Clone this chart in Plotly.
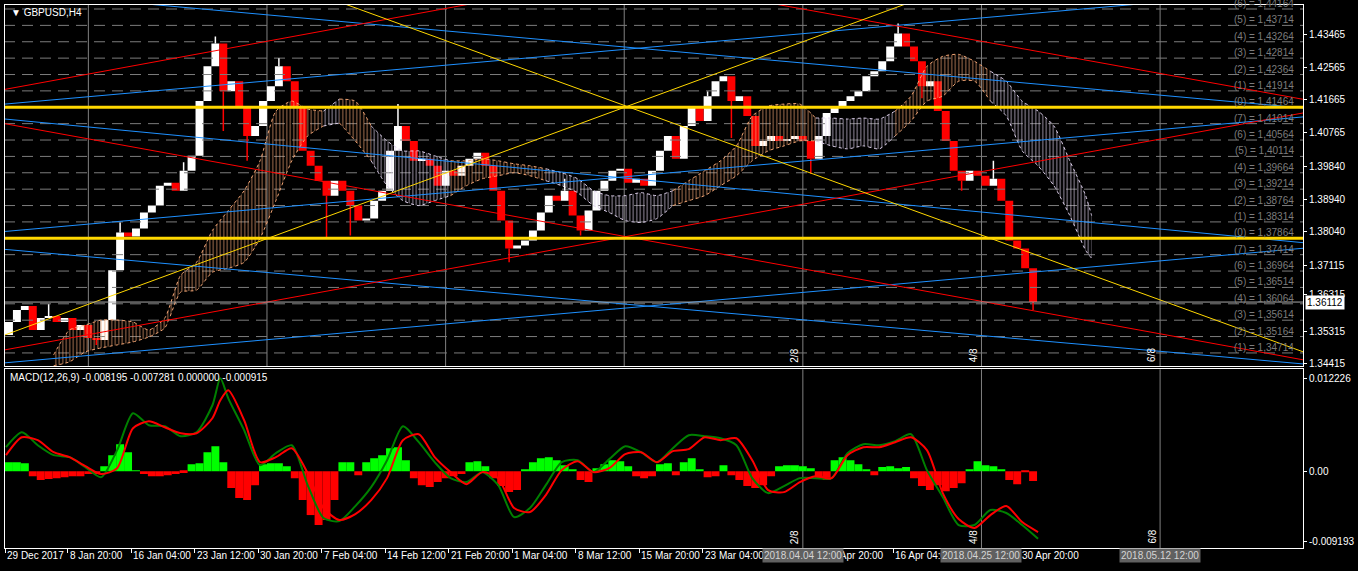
import plotly.graph_objects as go

# ---------------- DATA ----------------
first_open = 1.35208
# closes of consecutive 4-bar (H4) groups
close_px = [1.35564, 1.35892, 1.36001, 1.35345, 1.35673, 1.35728, 1.35564, 1.35673, 1.35345, 1.35482,
            1.35126, 1.35072, 1.35618, 1.36985, 1.38024, 1.37915, 1.38134, 1.38571, 1.38763, 1.39309,
            1.39391, 1.39173, 1.39719, 1.40130, 1.41633, 1.42590, 1.43219, 1.41907, 1.42180, 1.41497,
            1.40676, 1.40950, 1.41633, 1.42043, 1.42590, 1.42180, 1.41497, 1.40266, 1.39856, 1.39446,
            1.39036, 1.39446, 1.39173, 1.38763, 1.38352, 1.38407, 1.38899, 1.39173, 1.40266, 1.40950,
            1.40540, 1.39993, 1.40047, 1.39856, 1.39309, 1.39719, 1.39583, 1.39856, 1.40047, 1.40212,
            1.39856, 1.39173, 1.38352, 1.37587, 1.37669, 1.37806, 1.38079, 1.38571, 1.39036, 1.38899,
            1.39173, 1.38489, 1.38079, 1.38626, 1.39173, 1.39446, 1.39719, 1.39774, 1.39391, 1.39501,
            1.39309, 1.39719, 1.40266, 1.40676, 1.40047, 1.40950, 1.41497, 1.41086, 1.41770, 1.42180,
            1.42317, 1.41633, 1.41770, 1.41223, 1.40403, 1.40540, 1.40676, 1.40540, 1.40594, 1.40676,
            1.40540, 1.40047, 1.40676, 1.41305, 1.41497, 1.41633, 1.41770, 1.41907, 1.42317, 1.42453,
            1.42727, 1.43137, 1.43492, 1.43137, 1.42727, 1.42043, 1.42180, 1.41360, 1.40540, 1.39719,
            1.39446, 1.39719, 1.39583, 1.39309, 1.39501, 1.38899, 1.37806, 1.37587, 1.37040, 1.36112]
spike_group = [5, 11, 14, 22, 26, 27, 30, 34, 40, 43, 49, 63, 70, 72, 88, 91, 101, 112, 115, 120, 124, 129]
spike_price = [1.36050, 1.34935, 1.38300, 1.39950, 1.43410, 1.40813, 1.39993, 1.42809, 1.37860, 1.37942,
               1.41551, 1.37204, 1.39501, 1.37942, 1.41900, 1.40622, 1.39637, 1.43766, 1.41715, 1.39173,
               1.39993, 1.35892]

# Ichimoku-like cloud (bar index, top, bottom, colour kind)
cloud_idx = [24 + 8 * j for j in range(66)] + [547]
cloud_top = [1.34662, 1.35345, 1.35482, 1.35618, 1.35618, 1.35564, 1.35345, 1.35673, 1.36849, 1.37204,
             1.38079, 1.38626, 1.39173, 1.39993, 1.41360, 1.41633, 1.41414, 1.41360, 1.41688, 1.41633,
             1.40950, 1.40540, 1.40266, 1.40266, 1.40130, 1.39993, 1.39993, 1.40047, 1.39993, 1.39911,
             1.39856, 1.39774, 1.39665, 1.39501, 1.39173, 1.39036, 1.39036, 1.39118, 1.39036, 1.39173,
             1.39446, 1.39719, 1.39993, 1.40403, 1.41223, 1.41497, 1.41551, 1.41551, 1.41168, 1.41168,
             1.41141, 1.41168, 1.41141, 1.41360, 1.41770, 1.42590, 1.42864, 1.42918, 1.42727, 1.42453,
             1.42180, 1.41633, 1.41360, 1.40950, 1.39993, 1.39036, 1.38489]
cloud_bot = [1.34361, 1.34470, 1.34744, 1.34853, 1.34935, 1.35017, 1.35154, 1.35400, 1.36384, 1.36439,
             1.36931, 1.37040, 1.37204, 1.37860, 1.38899, 1.39993, 1.40676, 1.40950, 1.41032, 1.40540,
             1.39993, 1.39309, 1.38899, 1.38763, 1.38899, 1.39036, 1.39309, 1.39501, 1.39583, 1.39665,
             1.39583, 1.39446, 1.39309, 1.39118, 1.38763, 1.38571, 1.38352, 1.38298, 1.38407, 1.38763,
             1.38899, 1.39036, 1.39309, 1.39583, 1.39993, 1.40266, 1.40403, 1.40540, 1.40540, 1.40403,
             1.40321, 1.40403, 1.40321, 1.40676, 1.41086, 1.41633, 1.41770, 1.42180, 1.42180, 1.41633,
             1.41223, 1.40266, 1.39856, 1.39309, 1.38489, 1.37532, 1.37313]
cloud_kind = "PPPPPPPPPPPPPPPPP" + "L" + "PP" + "LLLLL" + "PPPPPP" + "LLLLLLLL" + "PPPPPPPPP" + "LLLLL" + "PPPPPP" + "LLLLLLLL"

# Murrey math levels
murrey_levels = [1.34264, 1.34714, 1.35164, 1.35614, 1.36064, 1.36514, 1.36964, 1.37414, 1.37864, 1.38314,
                 1.38764, 1.39214, 1.39664, 1.40114, 1.40564, 1.41014, 1.41464, 1.41914, 1.42364, 1.42814,
                 1.43264, 1.43714, 1.44164]
murrey_ids = [0, 1, 2, 3, 4, 5, 6, 7, 0, 1, 2, 3, 4, 5, 6, 7, 0, 1, 2, 3, 4, 5, 6]
gold_levels = [1.41464, 1.37864]
bid_price = 1.36112

# trend lines: price at bar 0 and at bar 650
red_p0 = [1.41961, 1.41007, 1.34804, 1.48113]
red_p1 = [1.48468, 1.34560, 1.41272, 1.41718]
blue_p0 = [1.44649, 1.41554, 1.41138, 1.37557, 1.34445, 1.38054]
blue_p1 = [1.41461, 1.44682, 1.37762, 1.34429, 1.37573, 1.41182]
yellow_p0 = [1.35219, 1.47681]
yellow_p1 = [1.48244, 1.34815]

# MACD panel
macd_idx = list(range(0, 105, 8)) + [108] + list(range(112, 521, 8))
macd_main = [0.00315, 0.00512, 0.00341, 0.00210, 0.00184, 0.00053, -0.00079, 0.00276, 0.00762, 0.00604,
             0.00591, 0.00460, 0.00512, 0.00867, 0.01221, 0.00958, 0.00538, 0.00079, 0.00236, 0.00341,
             -0.00184, -0.00617, -0.00657, -0.00460, -0.00210, 0.00144, 0.00591, 0.00381, 0.00118, -0.00092,
             -0.00144, -0.00013, -0.00184, -0.00604, -0.00486, -0.00184, 0.00118, 0.00144, -0.00013, 0.00158,
             0.00328, 0.00249, 0.00118, 0.00302, 0.00473, 0.00460, 0.00433, 0.00341, -0.00092, -0.00289,
             -0.00197, -0.00092, -0.00092, -0.00092, 0.00236, 0.00355, 0.00341, 0.00394, 0.00486, 0.00013,
             -0.00341, -0.00709, -0.00709, -0.00512, -0.00551, -0.00709, -0.00890]
macd_signal = [0.00210, 0.00446, 0.00407, 0.00249, 0.00184, 0.00066, -0.00039, 0.00039, 0.00565, 0.00657,
               0.00578, 0.00499, 0.00499, 0.00696, 0.00932, 0.01064, 0.00670, 0.00118, 0.00184, 0.00302,
               -0.00026, -0.00486, -0.00643, -0.00565, -0.00381, -0.00092, 0.00407, 0.00486, 0.00184, -0.00013,
               -0.00171, -0.00013, -0.00092, -0.00486, -0.00538, -0.00315, 0.00013, 0.00131, -0.00013, 0.00039,
               0.00223, 0.00249, 0.00118, 0.00263, 0.00289, 0.00446, 0.00407, 0.00433, 0.00144, -0.00249,
               -0.00276, -0.00144, -0.00066, -0.00092, 0.00210, 0.00315, 0.00315, 0.00381, 0.00446, 0.00276,
               -0.00289, -0.00630, -0.00748, -0.00578, -0.00460, -0.00670, -0.00801]
macd_hist = [0.00118, 0.00118, 0.00105, -0.00066, -0.00118, -0.00105, -0.00092, -0.00079, -0.00066, -0.00066,
             -0.00039, -0.00039, 0.00066, 0.00210, 0.00355, 0.00249, 0.00005, -0.00039, -0.00066, -0.00066,
             -0.00053, -0.00039, -0.00026, 0.00092, 0.00105, 0.00249, 0.00328, 0.00118, -0.00223, -0.00355,
             -0.00381, -0.00184, 0.00092, 0.00105, 0.00105, 0.00066, -0.00092, -0.00381, -0.00578, -0.00709,
             -0.00643, -0.00381, 0.00118, 0.00118, -0.00053, 0.00118, 0.00171, 0.00210, 0.00302, 0.00315,
             0.00144, -0.00092, -0.00184, -0.00210, -0.00144, -0.00092, -0.00066, -0.00039, 0.00118, 0.00131,
             0.00066, -0.00092, -0.00197, -0.00276, -0.00249, 0.00013, 0.00118, 0.00171, 0.00184, 0.00144,
             0.00079, 0.00013, -0.00118, -0.00144, 0.00039, 0.00092, 0.00144, 0.00131, 0.00066, -0.00066,
             -0.00092, -0.00066, 0.00092, 0.00105, -0.00053, 0.00118, 0.00171, 0.00013, -0.00079, -0.00066,
             0.00079, -0.00053, -0.00118, -0.00197, -0.00223, -0.00184, -0.00066, 0.00066, 0.00079, 0.00079,
             0.00066, 0.00039, -0.00105, -0.00118, 0.00144, 0.00184, 0.00144, 0.00092, 0.00013, -0.00053,
             0.00053, 0.00066, 0.00039, 0.00053, -0.00092, -0.00197, -0.00249, -0.00184, -0.00263, -0.00223,
             -0.00158, 0.00013, 0.00131, 0.00079, 0.00066, 0.00013, -0.00118, -0.00171, -0.00013, -0.00131]

# time axis
time_tick_idx = [-0.5, 31, 63, 95, 127, 159, 191, 223, 255, 287, 319, 351, 383, 415, 447, 479, 511]
time_label_idx = [-0.5, 31, 63, 95, 127, 159, 191, 223, 255, 287, 319, 351, 415, 447, 511]
time_labels = ["29 Dec 2017", "8 Jan 20:00", "16 Jan 04:00", "23 Jan 12:00", "30 Jan 20:00", "7 Feb 04:00",
               "14 Feb 12:00", "21 Feb 20:00", "1 Mar 04:00", "8 Mar 12:00", "15 Mar 20:00", "23 Mar 04:00",
               "6 Apr 20:00", "16 Apr 04:00", "30 Apr 20:00"]
grid_idx = [41.5, 131.5, 221.5, 311.5]
time_zone_idx = [401.5, 491.5, 581.5]
time_zone_names = ["2/8", "4/8", "6/8"]
time_zone_dates = ["2018.04.04 12:00", "2018.04.25 12:00", "2018.05.12 12:00"]

price_ticks = [1.43465, 1.42565, 1.41665, 1.40765, 1.39840, 1.38940, 1.38040, 1.37115, 1.36315, 1.35315, 1.34415]
macd_ticks = [0.012226, 0.0, -0.009193]
macd_tick_text = ["0.012226", "0.00", "-0.009193"]

# ---------------- LAYOUT HELPERS ----------------
W, H = 1358, 571
ML, MR, MT, MB = 5, 45, 4, 23
PW, PH = W - ML - MR, H - MT - MB


def ppy(p):
    return 1 - (p - MT) / PH


def ppx(p):
    return (p - ML) / PW


FONT = "Liberation Sans"
PEACH = "#F2A574"
LAVENDER = "#DCCFEA"
XR = [-0.5, 653.5]

fig = go.Figure()

# Murrey dashed levels
mx, my = [], []
for lv in murrey_levels:
    mx += [-1, 655, None]
    my += [lv, lv, None]
fig.add_trace(go.Scatter(x=mx, y=my, mode="lines", line=dict(color="#7c7c7c", width=1, dash="11px,7px"),
                         hoverinfo="skip"))

# cloud
runs, start = [], 0
for i in range(1, len(cloud_kind) + 1):
    if i == len(cloud_kind) or cloud_kind[i] != cloud_kind[start]:
        runs.append((start, i))
        start = i
for s, e in runs:
    e2 = min(e + 1, len(cloud_idx))
    col = PEACH if cloud_kind[s] == "P" else LAVENDER
    fig.add_trace(go.Scatter(x=cloud_idx[s:e2], y=cloud_bot[s:e2], mode="lines",
                             line=dict(color=col, width=1, dash="dot", shape="spline", smoothing=0.6),
                             hoverinfo="skip"))
    fig.add_trace(go.Scatter(x=cloud_idx[s:e2], y=cloud_top[s:e2], mode="lines",
                             line=dict(color=col, width=1, dash="dot", shape="spline", smoothing=0.6),
                             fill="tonexty", fillcolor="rgba(0,0,0,0)",
                             fillpattern=dict(shape="|", fgcolor=col, bgcolor="rgba(0,0,0,0)", size=3.5,
                                              solidity=0.4),
                             hoverinfo="skip"))

# candles (4-bar groups)
opens = [first_open] + close_px[:-1]
groups = {"up": ([], [], []), "dn": ([], [], [])}
for k, (o, c) in enumerate(zip(opens, close_px)):
    lo, hi = min(o, c), max(o, c)
    key = "up" if c >= o else "dn"
    groups[key][0].append(4 * k + 1.5)
    groups[key][1].append(lo)
    groups[key][2].append(max(hi - lo, 0.00025))
for key, col in (("up", "#FFFFFF"), ("dn", "#FF0000")):
    gx, gb, gh = groups[key]
    fig.add_trace(go.Bar(x=gx, y=gh, base=gb, width=4.0, marker=dict(color=col, line=dict(width=0)),
                         hoverinfo="skip"))
wk = {"up": ([], []), "dn": ([], [])}
for g, sp in zip(spike_group, spike_price):
    o, c = opens[g], close_px[g]
    key = "up" if c >= o else "dn"
    edge = max(o, c) if sp > max(o, c) else min(o, c)
    wk[key][0].extend([4 * g + 1.5, 4 * g + 1.5, None])
    wk[key][1].extend([edge, sp, None])
for key, col in (("up", "#FFFFFF"), ("dn", "#FF0000")):
    fig.add_trace(go.Scatter(x=wk[key][0], y=wk[key][1], mode="lines", line=dict(color=col, width=1.5),
                             hoverinfo="skip"))


def add_trend(p0, p1, col):
    xa, xb = -1, 655
    ya = p0 + (p1 - p0) * xa / 650
    yb = p0 + (p1 - p0) * xb / 650
    fig.add_trace(go.Scatter(x=[xa, xb], y=[ya, yb], mode="lines", line=dict(color=col, width=1),
                             hoverinfo="skip"))


for a, b in zip(blue_p0, blue_p1):
    add_trend(a, b, "#1E90FF")
for a, b in zip(red_p0, red_p1):
    add_trend(a, b, "#FF0000")
for a, b in zip(yellow_p0, yellow_p1):
    add_trend(a, b, "#FFD700")
for lv in gold_levels:
    fig.add_trace(go.Scatter(x=[-1, 655], y=[lv, lv], mode="lines", line=dict(color="#FFD700", width=3),
                             hoverinfo="skip"))
fig.add_trace(go.Scatter(x=[-1, 655], y=[bid_price, bid_price], mode="lines",
                         line=dict(color="#a8a8a8", width=1), hoverinfo="skip"))

# MACD histogram
hx = [4 * k + 1.5 for k in range(len(macd_hist))]
pos = [(x, v) for x, v in zip(hx, macd_hist) if v >= 0]
neg = [(x, v) for x, v in zip(hx, macd_hist) if v < 0]
fig.add_trace(go.Bar(x=[p[0] for p in pos], y=[p[1] for p in pos], width=4, xaxis="x2", yaxis="y2",
                     marker=dict(color="#00FF00", line=dict(width=0)), hoverinfo="skip"))
fig.add_trace(go.Bar(x=[p[0] for p in neg], y=[p[1] for p in neg], width=4, xaxis="x2", yaxis="y2",
                     marker=dict(color="#FF0000", line=dict(width=0)), hoverinfo="skip"))
fig.add_trace(go.Scatter(x=macd_idx, y=macd_main, mode="lines", xaxis="x2", yaxis="y2",
                         line=dict(color="#008000", width=2, shape="spline", smoothing=0.7), hoverinfo="skip"))
fig.add_trace(go.Scatter(x=macd_idx, y=macd_signal, mode="lines", xaxis="x2", yaxis="y2",
                         line=dict(color="#FF0000", width=2, shape="spline", smoothing=0.7), hoverinfo="skip"))

# vertical lines
shapes = []
for gx in grid_idx + time_zone_idx:
    shapes.append(dict(type="line", xref="x", yref="y domain", x0=gx, x1=gx, y0=0, y1=1,
                       line=dict(color="#808080", width=1), layer="below"))
for gx in time_zone_idx:
    shapes.append(dict(type="line", xref="x2", yref="y2 domain", x0=gx, x1=gx, y0=0, y1=1,
                       line=dict(color="#808080", width=1), layer="below"))

ann = []
ann.append(dict(text="▼ GBPUSD,H4", xref="paper", yref="paper", x=ppx(9), y=ppy(12), xanchor="left",
                yanchor="middle", showarrow=False, font=dict(family=FONT, size=10, color="white")))
ann.append(dict(text="MACD(12,26,9) -0.008195 -0.007281 0.000000 -0.000915", xref="paper", yref="paper",
                x=ppx(8), y=ppy(377), xanchor="left", yanchor="middle", showarrow=False,
                font=dict(family=FONT, size=10, color="white")))
for lv, n in zip(murrey_levels, murrey_ids):
    ann.append(dict(text="(%d) = %s" % (n, ("%.5f" % lv).replace(".", ",")), xref="x", yref="y", x=650, y=lv,
                    xanchor="right", yanchor="bottom", yshift=-2, showarrow=False,
                    font=dict(family=FONT, size=10, color="#7c7c7c")))
for ti, tl in zip(time_label_idx, time_labels):
    ann.append(dict(text=tl, xref="x2", yref="paper", x=ti, y=ppy(556), xanchor="left", yanchor="middle",
                    showarrow=False, font=dict(family=FONT, size=10, color="white")))
for ti, nm, dt in zip(time_zone_idx, time_zone_names, time_zone_dates):
    ann.append(dict(text=dt, xref="x2", yref="paper", x=ti, y=ppy(556), xanchor="center", yanchor="middle",
                    showarrow=False, bgcolor="#606060", borderpad=1,
                    font=dict(family=FONT, size=10, color="#d4d4d4")))
    for yy in (ppy(355), ppy(537)):
        ann.append(dict(text=nm, xref="x", yref="paper", x=ti, y=yy, xanchor="right", yanchor="middle",
                        xshift=-1, textangle=-90, showarrow=False,
                        font=dict(family=FONT, size=10, color="white")))
ann.append(dict(text="1.36112", xref="paper", yref="y", x=ppx(1315), y=bid_price, xanchor="left",
                yanchor="middle", showarrow=False, bgcolor="white", borderpad=1,
                font=dict(family=FONT, size=10, color="black")))

axis_common = dict(showgrid=False, zeroline=False, showline=True, mirror=True, linecolor="white", linewidth=1)
fig.update_layout(
    width=W, height=H, autosize=False,
    margin=dict(l=ML, r=MR, t=MT, b=MB, pad=0),
    paper_bgcolor="black", plot_bgcolor="black",
    showlegend=False, barmode="overlay", hovermode=False,
    xaxis=dict(domain=[0, 1], range=XR, anchor="y", showticklabels=False, ticks="", **axis_common),
    yaxis=dict(domain=[ppy(366), 1], range=[1.34346, 1.44274], anchor="x", side="right",
               tickvals=price_ticks, tickformat=".5f", ticks="outside", ticklen=3, tickcolor="white",
               tickfont=dict(family=FONT, size=10, color="white"), **axis_common),
    xaxis2=dict(domain=[0, 1], range=XR, anchor="y2", showticklabels=False, tickvals=time_tick_idx,
                ticks="outside", ticklen=4, tickcolor="white", **axis_common),
    yaxis2=dict(domain=[0, ppy(369)], range=[-0.010112, 0.013395], anchor="x2", side="right",
                tickvals=macd_ticks, ticktext=macd_tick_text, ticks="outside", ticklen=3, tickcolor="white",
                tickfont=dict(family=FONT, size=10, color="white"), **axis_common),
    shapes=shapes, annotations=ann,
)

fig.write_html("out.html", config={"displayModeBar": False},
               post_script="document.body.style.margin='0';document.body.style.overflow='hidden';")
